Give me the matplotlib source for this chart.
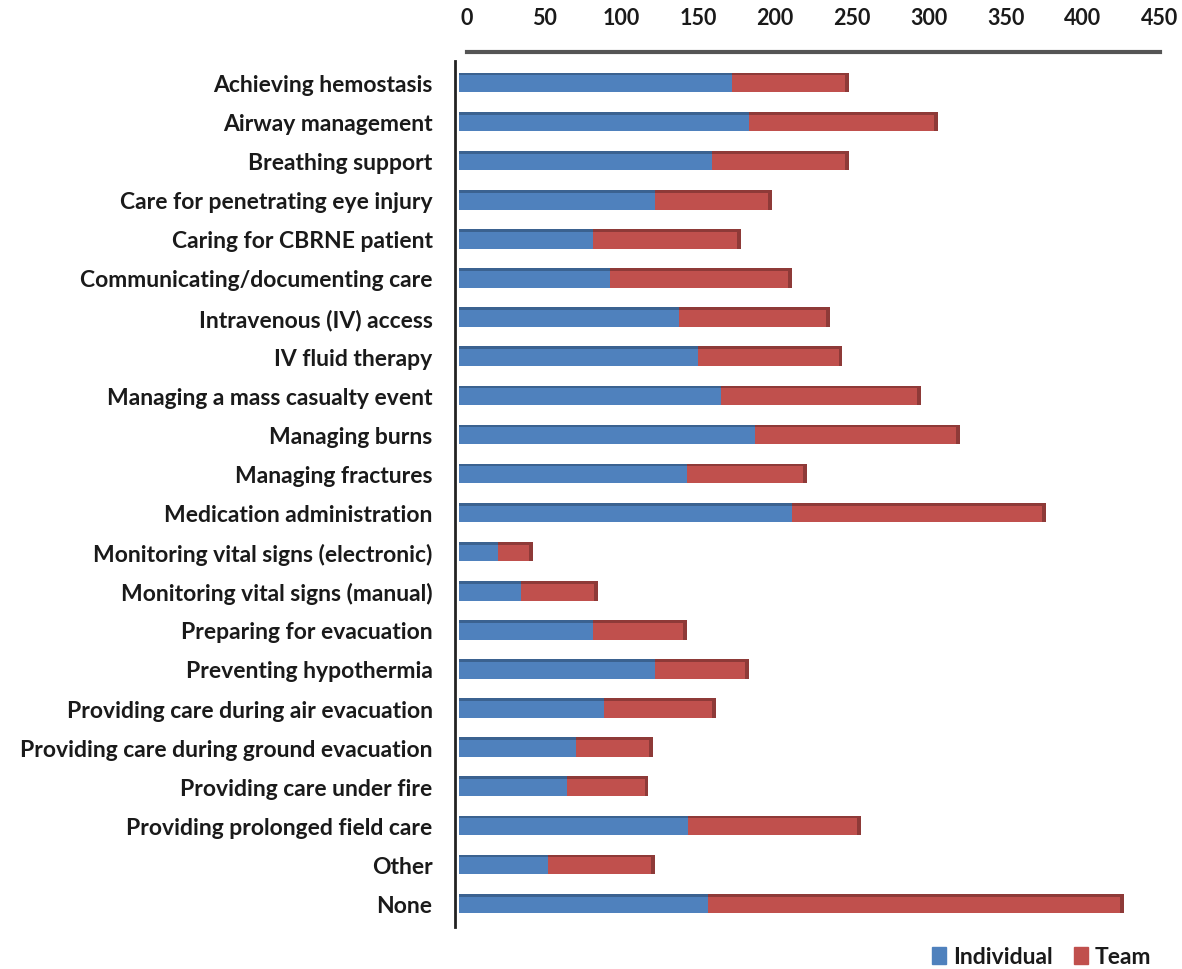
import matplotlib
matplotlib.use("Agg")
import matplotlib.pyplot as plt
import numpy as np
from matplotlib.patches import Patch
from matplotlib.transforms import ScaledTranslation

categories = [
    "Achieving hemostasis",
    "Airway management",
    "Breathing support",
    "Care for penetrating eye injury",
    "Caring for CBRNE patient",
    "Communicating/documenting care",
    "Intravenous (IV) access",
    "IV fluid therapy",
    "Managing a mass casualty event",
    "Managing burns",
    "Managing fractures",
    "Medication administration",
    "Monitoring vital signs (electronic)",
    "Monitoring vital signs (manual)",
    "Preparing for evacuation",
    "Preventing hypothermia",
    "Providing care during air evacuation",
    "Providing care during ground evacuation",
    "Providing care under fire",
    "Providing prolonged field care",
    "Other",
    "None",
]
individual = [177, 188, 164, 127, 87, 98, 143, 155, 170, 192, 148, 216, 25, 40, 87, 127, 94, 76, 70, 149, 58, 162]
team = [76, 123, 89, 76, 96, 118, 98, 94, 130, 133, 78, 165, 23, 50, 61, 61, 73, 50, 53, 112, 69, 270]
xticks = [0, 50, 100, 150, 200, 250, 300, 350, 400, 450]

plt.rcParams['font.family'] = ['Lato', 'DejaVu Sans']
plt.rcParams['font.weight'] = 'bold'

W, H = 1182, 970
fig = plt.figure(figsize=(W / 100, H / 100), dpi=100)
ax = fig.add_axes([459 / W, 1 - 928 / H, (1152 - 459) / W, (928 - 62) / H])

blue = "#4F81BD"
red = "#C0504D"
blue_dark = "#3B6290"
red_dark = "#8E3A38"
text_col = "#1a1a1a"

for s in ['top', 'right', 'bottom']:
    ax.spines[s].set_visible(False)
ax.spines['left'].set_position(('outward', 3))
ax.spines['left'].set_linewidth(2)
ax.spines['left'].set_color("#222222")

n = len(categories)
y = np.arange(n)
ind = np.array(individual)
tm = np.array(team)
h = 0.5
ax.barh(y, ind, height=h, color=blue, zorder=2)
ax.barh(y, tm, left=ind, height=h, color=red, zorder=2)
# darker top edge / end cap to suggest the 3D look
ax.barh(y - h / 2 + 0.035, ind, height=0.07, color=blue_dark, zorder=3)
ax.barh(y - h / 2 + 0.035, tm, left=ind, height=0.07, color=red_dark, zorder=3)
ax.barh(y, 2.5, left=ind + tm - 2.5, height=h, color=red_dark, zorder=3)

ax.set_xlim(0, 450)
ax.set_ylim(n - 0.5 + 0.1, -0.5 - 0.05)
ax.xaxis.tick_top()
ax.set_yticks(y)
ax.set_yticklabels(categories)
ax.set_xticks(xticks)
ax.set_xticklabels([str(v) for v in xticks])
ax.tick_params(axis='y', length=0, pad=16, labelsize=16.5, labelcolor=text_col)
ax.tick_params(axis='x', length=0, pad=24, labelsize=15.5, labelcolor=text_col)
shift = ScaledTranslation(8 / 100, 0, fig.dpi_scale_trans)
for t in ax.xaxis.get_major_ticks():
    for lbl in (t.label1, t.label2):
        lbl.set_fontweight('bold')
        lbl.set_transform(lbl.get_transform() + shift)
for t in ax.yaxis.get_major_ticks():
    t.label1.set_fontweight('bold')

# top axis line
fig.add_artist(plt.Line2D([467 / W, 1160 / W], [1 - 53 / H, 1 - 53 / H],
                          color="#555555", linewidth=3))

handles = [Patch(color=blue, label="Individual"), Patch(color=red, label="Team")]
fig.legend(handles=handles, loc='center right', bbox_to_anchor=(1172 / W, 1 - 958 / H),
           ncol=2, frameon=False, prop={'weight': 'bold', 'size': 16.5},
           handlelength=0.6, handleheight=0.7, handletextpad=0.3, columnspacing=0.95,
           labelcolor=text_col)

fig.savefig("out.png", dpi=100)
